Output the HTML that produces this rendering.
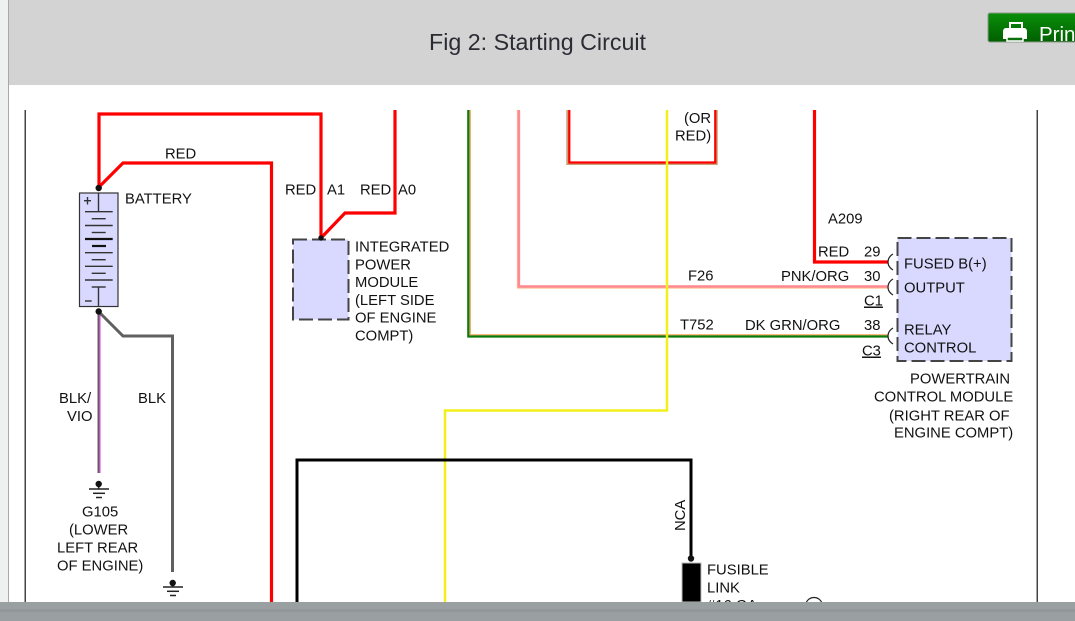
<!DOCTYPE html>
<html><head><meta charset="utf-8">
<style>
html,body{margin:0;padding:0;background:#fff;width:1075px;height:621px;overflow:hidden}
svg{display:block}
text{font-family:"Liberation Sans",sans-serif;font-size:14.8px;fill:#111}
</style></head>
<body>
<svg width="1075" height="621" viewBox="0 0 1075 621" xmlns="http://www.w3.org/2000/svg">
<defs>
<linearGradient id="g" x1="0" y1="0" x2="0" y2="1"><stop offset="0" stop-color="#0a8f0a"/><stop offset="1" stop-color="#005f00"/></linearGradient>
</defs>
<rect x="0" y="0" width="1075" height="621" fill="#fff"/>
<rect x="0" y="0" width="8" height="621" fill="#eef1f0"/>
<rect x="8" y="0" width="1" height="621" fill="#a8a8a8"/>
<rect x="9" y="0" width="1066" height="85" fill="#d3d3d3"/>
<text x="429" y="50" style="font-size:23px;fill:#2b2b33" textLength="217" lengthAdjust="spacingAndGlyphs">Fig 2: Starting Circuit</text>
<rect x="988" y="13" width="90" height="29" rx="2" fill="url(#g)" stroke="#8a9a8a" stroke-width="1"/>
<rect x="1010" y="23" width="12" height="8" fill="none" stroke="#fff" stroke-width="2"/>
<path d="M1006,28 H1024 Q1027,28 1027,32 V39 H1003 V32 Q1003,28 1006,28 Z" fill="#fff"/>
<rect x="1007" y="37" width="16" height="4" fill="#0a6f0a" stroke="#fff" stroke-width="1.5"/>
<text x="1039" y="41" style="font-size:20.5px;fill:#fff">Print</text>

<rect x="24.500" y="110" width="1.500" height="492" fill="#444"/>
<rect x="1036.500" y="110" width="1.500" height="492" fill="#444"/>

<!-- two-tone wires -->
<polyline points="469.800,110 469.800,335.300 888,335.300" fill="none" stroke="#f4b070" stroke-width="2.400"/>
<polyline points="468.300,110 468.300,336.500 888,336.500" fill="none" stroke="#0a7a0a" stroke-width="2.200"/>
<polyline points="518.500,110 518.500,287 888,287" fill="none" stroke="#ffc090" stroke-width="3.200"/>
<polyline points="518.800,110 518.800,286.500 888,286.500" fill="none" stroke="#ff8a94" stroke-width="2.600"/>
<polyline points="568,110 568,163.300 716,163.300 716,110" fill="none" stroke="#c9a27a" stroke-width="3.500"/>
<polyline points="569.300,110 569.300,162.500 715.300,162.500 715.300,110" fill="none" stroke="#ff0000" stroke-width="2.200"/>
<polyline points="667,110 667,410.500 445,410.500 445,602" fill="none" stroke="#f2f01a" stroke-width="2.500"/>
<polyline points="297,602 297,460 691,460 691,558" fill="none" stroke="#000" stroke-width="3"/>

<!-- red wires -->
<polyline points="99,187 99,114 321,114 321,238" fill="none" stroke="#ff0000" stroke-width="3.200"/>
<polyline points="99,187 123,163 271.500,163 271.500,602" fill="none" stroke="#ff0000" stroke-width="3.200"/>
<polyline points="395,110 395,213 345,213 321,238" fill="none" stroke="#ff0000" stroke-width="3.200"/>
<polyline points="814.500,110 814.500,262 888,262" fill="none" stroke="#ff0000" stroke-width="3.200"/>

<!-- ground wires -->
<polyline points="99,312 99,473" fill="none" stroke="#606060" stroke-width="3"/>
<line x1="100" y1="314" x2="100" y2="473" stroke="#f050f0" stroke-width="1.200"/>
<polyline points="99,312 123,336 172.500,336 172.500,572" fill="none" stroke="#606060" stroke-width="3"/>

<!-- battery -->
<rect x="79.500" y="193" width="38.500" height="113.500" fill="#d9d9ff" stroke="#333" stroke-width="1.200"/>
<g stroke="#333" stroke-width="1.400">
<line x1="98.500" y1="193" x2="98.500" y2="211"/>
<line x1="98.500" y1="287" x2="98.500" y2="306"/>
<line x1="85" y1="211.700" x2="112.700" y2="211.700"/>
<line x1="91.700" y1="218.700" x2="105.700" y2="218.700"/>
<line x1="85" y1="225.500" x2="112.700" y2="225.500"/>
<line x1="91.700" y1="232.500" x2="105.700" y2="232.500"/>
<line x1="85" y1="239" x2="112.700" y2="239" stroke-width="2.200" stroke="#111"/>
<line x1="92" y1="246" x2="106" y2="246" stroke-width="2.200" stroke="#111"/>
<line x1="85" y1="252.700" x2="112.700" y2="252.700"/>
<line x1="91.700" y1="259.700" x2="105.700" y2="259.700"/>
<line x1="85" y1="266.300" x2="112.700" y2="266.300"/>
<line x1="91.700" y1="273.300" x2="105.700" y2="273.300"/>
<line x1="85" y1="280" x2="112.700" y2="280"/>
<line x1="91.700" y1="287" x2="105.700" y2="287"/>
<line x1="85" y1="301" x2="91.700" y2="301"/>
<line x1="84" y1="200.700" x2="91" y2="200.700"/>
<line x1="87.500" y1="197" x2="87.500" y2="204.500"/>
</g>
<circle cx="98.700" cy="188" r="3.200" fill="#111"/>
<circle cx="98.700" cy="311.500" r="3.200" fill="#111"/>

<!-- grounds -->
<g stroke="#222" stroke-width="1.500">
<line x1="89" y1="489" x2="109" y2="489"/><line x1="93" y1="493.300" x2="105" y2="493.300"/><line x1="96" y1="497.500" x2="102" y2="497.500"/>
<line x1="98.700" y1="484" x2="98.700" y2="489"/>
<line x1="163" y1="587" x2="183" y2="587"/><line x1="167" y1="591.300" x2="179" y2="591.300"/><line x1="170" y1="595.500" x2="176" y2="595.500"/>
<line x1="172.700" y1="582" x2="172.700" y2="587"/>
</g>
<circle cx="98.700" cy="484" r="3.200" fill="#111"/>
<circle cx="172.700" cy="583" r="3.200" fill="#111"/>

<!-- IPM -->
<rect x="293" y="239.500" width="55.500" height="80" fill="#d9d9ff" stroke="#444" stroke-width="2" stroke-dasharray="14 5"/>
<circle cx="321" cy="238" r="2.700" fill="#111"/>

<!-- PCM -->
<rect x="897.500" y="238" width="114" height="123" fill="#d9d9ff" stroke="#444" stroke-width="2" stroke-dasharray="14 5"/>
<g fill="none" stroke="#222" stroke-width="1.200">
<path d="M893,254 Q888,257 888,262 Q888,267 893,270"/>
<path d="M893,279 Q888,282 888,287 Q888,292 893,295"/>
<path d="M893,328 Q888,331 888,336 Q888,341 893,344"/>
</g>

<!-- fuse -->
<rect x="682" y="563" width="19" height="39" fill="#000" stroke="#bbb" stroke-width="1"/>
<circle cx="691" cy="558.500" r="3.200" fill="#111"/>
<circle cx="814" cy="606" r="8.500" fill="#fff" stroke="#222" stroke-width="1.200"/>

<!-- labels -->
<text x="165" y="158.500">RED</text>
<text x="125" y="203.500">BATTERY</text>
<text x="285" y="194.500">RED</text>
<text x="327" y="194.500">A1</text>
<text x="360" y="194.500">RED</text>
<text x="398" y="194.500">A0</text>
<text x="355" y="251.500">INTEGRATED</text>
<text x="355" y="269.500">POWER</text>
<text x="355" y="287">MODULE</text>
<text x="355" y="305">(LEFT SIDE</text>
<text x="355" y="322.500">OF ENGINE</text>
<text x="355" y="340.500">COMPT)</text>
<text x="684" y="123">(OR</text>
<text x="675" y="140.500">RED)</text>
<text x="828" y="223.500">A209</text>
<text x="818" y="256.500">RED</text>
<text x="864" y="256.500">29</text>
<text x="688" y="280.500">F26</text>
<text x="781" y="281">PNK/ORG</text>
<text x="864" y="281">30</text>
<text x="864" y="305.500" text-decoration="underline">C1</text>
<text x="680" y="329.500">T752</text>
<text x="745" y="330">DK GRN/ORG</text>
<text x="864" y="330">38</text>
<text x="862" y="355.500" text-decoration="underline">C3</text>
<text x="904" y="268.500">FUSED B(+)</text>
<text x="904" y="292.500">OUTPUT</text>
<text x="904" y="334.500">RELAY</text>
<text x="904" y="352.500">CONTROL</text>
<text x="910" y="383.500">POWERTRAIN</text>
<text x="874" y="401.500">CONTROL MODULE</text>
<text x="889" y="420.500">(RIGHT REAR OF</text>
<text x="894" y="437.500">ENGINE COMPT)</text>
<text x="59" y="403">BLK/</text>
<text x="67" y="421">VIO</text>
<text x="138" y="403">BLK</text>
<text x="82" y="516.500">G105</text>
<text x="69" y="534.500">(LOWER</text>
<text x="57" y="552.500">LEFT REAR</text>
<text x="57" y="570.500">OF ENGINE)</text>
<text transform="translate(685,531) rotate(-90)">NCA</text>
<text x="707" y="574.500">FUSIBLE</text>
<text x="707" y="592.500">LINK</text>
<text x="707" y="610">#16 GA</text>

<!-- bottom bar -->
<rect x="0" y="602" width="1075" height="19" fill="#9a9fa2"/>
<rect x="0" y="609" width="1075" height="3" fill="#92979a"/>
</svg>
</body></html>
